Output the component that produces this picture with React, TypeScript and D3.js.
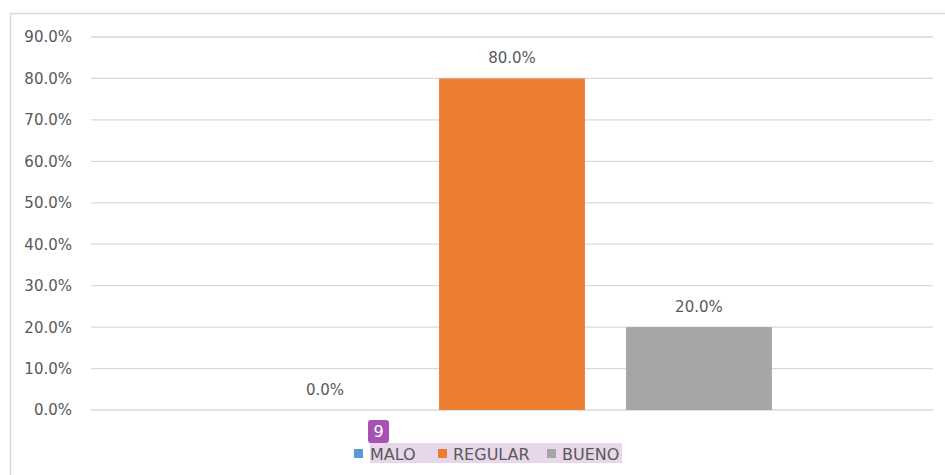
import React from "react";
import * as d3 from "d3";

const seriesNames = ["MALO", "REGULAR", "BUENO"];
const seriesValues = [0.0, 0.8, 0.2];
const seriesColors = ["#5b9bd5", "#ed7d31", "#a5a5a5"];
const yTicks = [0, 0.1, 0.2, 0.3, 0.4, 0.5, 0.6, 0.7, 0.8, 0.9];
const categories = ["Grupo"];
const badgeText = "9";

const W = 945;
const H = 475;
const FONT = "'DejaVu Sans', sans-serif";
const TEXT = "#595959";

export default function App() {
  const plotLeft = 91;
  const plotRight = 933;
  const y = d3.scaleLinear().domain([0, 0.9]).range([410, 37]);
  const x0 = d3.scaleBand<string>().domain(categories).range([plotLeft, plotRight]).paddingInner(0).paddingOuter(0.31);
  const x1 = d3.scaleBand<string>().domain(seriesNames).range([0, x0.bandwidth()]).paddingInner(0.22).paddingOuter(0);
  const fmt = (v: number) => d3.format(".1f")(v * 100) + "%";

  const legendY = 454;
  const legendItems = [
    { name: seriesNames[0], sx: 354, tx: 370 },
    { name: seriesNames[1], sx: 438, tx: 453 },
    { name: seriesNames[2], sx: 547, tx: 562 },
  ];

  return (
    <div style={{ position: "absolute", left: 0, top: 0 }}>
      <svg width={W} height={H} style={{ display: "block", background: "#fff" }}>
        <rect x={10.5} y={13.5} width={W} height={H} fill="#fff" stroke="#d9d9d9" strokeWidth={1.5} />
        {yTicks.map((t) => (
          <g key={t}>
            <line x1={plotLeft} x2={plotRight} y1={y(t)} y2={y(t)} stroke="#d9d9d9" strokeWidth={1.3} />
            <text x={72} y={y(t)} dy="0.36em" textAnchor="end" fontFamily={FONT} fontSize={15} fill={TEXT}>
              {fmt(t)}
            </text>
          </g>
        ))}
        {categories.map((c) => (
          <g key={c} transform={`translate(${x0(c)},0)`}>
            {seriesNames.map((s, i) => {
              const v = seriesValues[i];
              const bx = x1(s)!;
              return (
                <g key={s}>
                  {v > 0 && (
                    <rect x={bx} y={y(v)} width={x1.bandwidth()} height={y(0) - y(v)} fill={seriesColors[i]} />
                  )}
                  <text x={bx + x1.bandwidth() / 2} y={y(v) - 15} textAnchor="middle" fontFamily={FONT} fontSize={15} fill={TEXT}>
                    {fmt(v)}
                  </text>
                </g>
              );
            })}
          </g>
        ))}
        <rect x={370} y={443} width={252} height={20} fill="#e8d6ea" />
        {legendItems.map((it, i) => (
          <g key={it.name}>
            <rect x={it.sx} y={legendY - 5} width={9} height={9} fill={seriesColors[i]} />
            <text x={it.tx} y={legendY} dy="0.36em" fontFamily={FONT} fontSize={16} fill={TEXT}>
              {it.name}
            </text>
          </g>
        ))}
        <rect x={368} y={420} width={21} height={23} rx={3} fill="#a552b3" />
        <text x={378.5} y={431.5} dy="0.36em" textAnchor="middle" fontFamily={FONT} fontSize={16} fill="#fff">
          {badgeText}
        </text>
      </svg>
    </div>
  );
}
